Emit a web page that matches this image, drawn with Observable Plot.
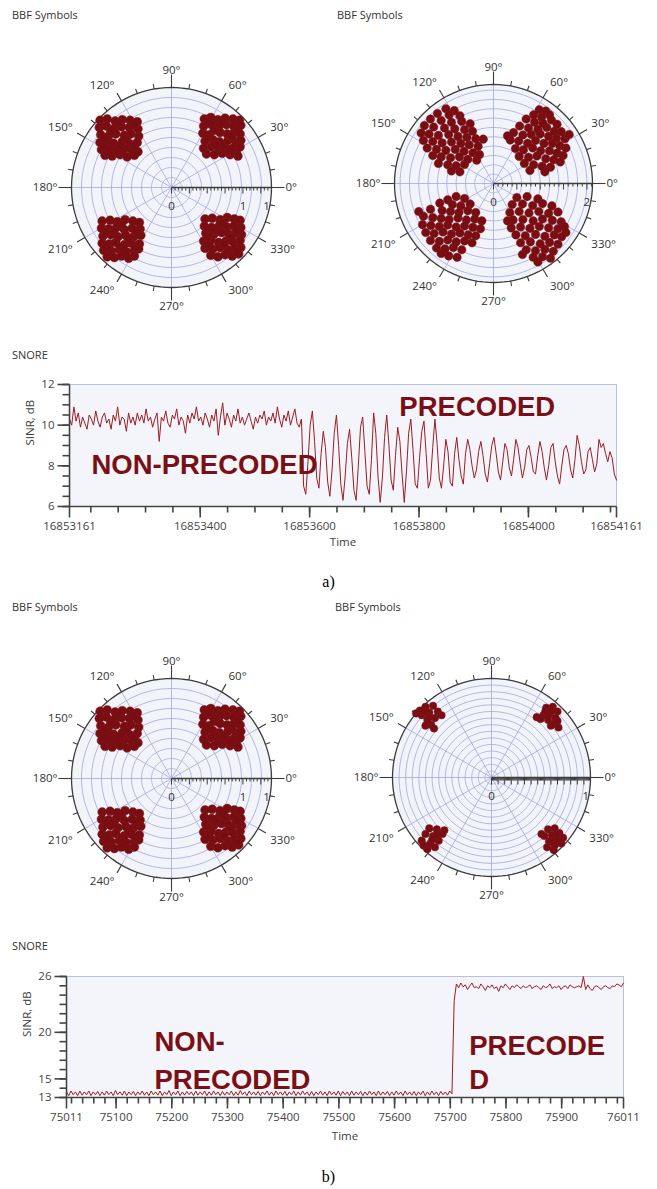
<!DOCTYPE html>
<html><head><meta charset="utf-8">
<script src="https://cdn.jsdelivr.net/npm/d3@7"></script>
<script src="https://cdn.jsdelivr.net/npm/@observablehq/plot@0.6"></script>
<style>
body{margin:0;background:#fff;}
#page{position:relative;width:657px;height:1189px;overflow:hidden;font-family:"Open Sans",sans-serif;}
.abs{position:absolute;}
.ttl{font-size:11px;color:#333;white-space:nowrap;}
.cap{font-family:"Liberation Serif",serif;font-size:16px;color:#000;width:657px;text-align:center;left:0;}
</style></head><body><div id="page"></div>
<script>
// ---------- constellation data (I/Q) ----------
const aLeftQ1 = [[0.46,0.96],[0.55,0.98],[0.65,0.95],[0.75,0.97],[0.86,0.96],[0.95,0.94],
 [0.45,0.86],[0.56,0.88],[0.66,0.85],[0.77,0.88],[0.87,0.86],[0.97,0.87],
 [0.44,0.76],[0.53,0.74],[0.68,0.77],[0.78,0.75],[0.88,0.77],[0.96,0.75],
 [0.47,0.65],[0.58,0.67],[0.67,0.64],[0.79,0.66],[0.90,0.64],[0.97,0.66],
 [0.45,0.55],[0.56,0.57],[0.66,0.54],[0.76,0.56],[0.86,0.55],[0.96,0.57],
 [0.49,0.47],[0.60,0.46],[0.71,0.48],[0.82,0.46],[0.91,0.49],
 [0.60,0.80],[0.84,0.70],[0.72,0.59],[0.93,0.44],[0.51,0.91],[0.71,0.91],[0.92,0.81],[0.62,0.60],[0.82,0.51],[0.50,0.70]];
const aLeftQ2 = [[-1.00,0.94],[-0.90,0.96],[-0.79,0.93],[-0.69,0.95],[-0.58,0.94],[-0.48,0.92],
 [-1.01,0.84],[-0.91,0.86],[-0.80,0.83],[-0.70,0.85],[-0.59,0.84],[-0.47,0.82],
 [-0.99,0.74],[-0.88,0.72],[-0.78,0.75],[-0.66,0.73],[-0.57,0.75],[-0.46,0.72],
 [-1.00,0.63],[-0.90,0.65],[-0.81,0.62],[-0.69,0.64],[-0.58,0.61],[-0.48,0.63],
 [-0.98,0.53],[-0.87,0.54],[-0.77,0.52],[-0.66,0.54],[-0.55,0.52],[-0.47,0.50],
 [-0.93,0.45],[-0.83,0.44],[-0.72,0.46],[-0.62,0.43],[-0.52,0.45],
 [-0.85,0.79],[-0.63,0.68],[-0.95,0.58],[-0.74,0.90],[-0.53,0.88],[-0.94,0.69],[-0.72,0.58],[-0.52,0.57]];
const aLeftQ3 = [[-0.97,-0.47],[-0.86,-0.46],[-0.76,-0.48],[-0.65,-0.45],[-0.54,-0.47],[-0.45,-0.49],
 [-0.98,-0.57],[-0.88,-0.58],[-0.77,-0.56],[-0.66,-0.59],[-0.55,-0.57],[-0.44,-0.58],
 [-0.96,-0.68],[-0.85,-0.66],[-0.75,-0.69],[-0.64,-0.67],[-0.53,-0.69],[-0.43,-0.67],
 [-0.97,-0.78],[-0.87,-0.79],[-0.78,-0.77],[-0.66,-0.80],[-0.56,-0.78],[-0.45,-0.79],
 [-0.95,-0.88],[-0.84,-0.89],[-0.73,-0.87],[-0.63,-0.90],[-0.52,-0.88],[-0.46,-0.86],
 [-0.90,-0.97],[-0.80,-0.98],[-0.70,-0.96],[-0.60,-0.99],[-0.52,-0.96],
 [-0.81,-0.62],[-0.60,-0.73],[-0.91,-0.83],[-0.70,-0.52],[-0.49,-0.62],[-0.70,-0.84],[-0.91,-0.62],[-0.50,-0.83]];
const aLeftQ4 = [[0.47,-0.44],[0.57,-0.43],[0.68,-0.45],[0.78,-0.42],[0.88,-0.44],[0.96,-0.46],
 [0.46,-0.54],[0.56,-0.56],[0.67,-0.53],[0.77,-0.55],[0.87,-0.54],[0.97,-0.56],
 [0.48,-0.64],[0.59,-0.66],[0.70,-0.63],[0.80,-0.65],[0.90,-0.64],[0.98,-0.66],
 [0.45,-0.75],[0.55,-0.74],[0.66,-0.77],[0.76,-0.75],[0.86,-0.76],[0.96,-0.74],
 [0.47,-0.85],[0.58,-0.86],[0.68,-0.84],[0.79,-0.87],[0.89,-0.85],[0.97,-0.84],
 [0.55,-0.95],[0.65,-0.97],[0.75,-0.94],[0.85,-0.96],[0.94,-0.93],
 [0.62,-0.60],[0.83,-0.70],[0.52,-0.80],[0.72,-0.50],[0.92,-0.60],[0.73,-0.80],[0.92,-0.90],[0.51,-0.69]];

const aRightQ1 = [[0.98,1.58],[1.12,1.55],[0.86,1.47],[1.03,1.42],[1.20,1.47],
 [0.70,1.38],[0.88,1.31],[1.06,1.29],[1.24,1.36],[1.36,1.27],
 [0.56,1.23],[0.75,1.19],[0.95,1.16],[1.14,1.20],[1.30,1.12],[1.45,1.11],
 [0.43,1.09],[0.63,1.04],[0.81,1.05],[1.00,1.06],[1.18,1.01],[1.35,0.97],[1.53,0.96],
 [0.36,0.93],[0.54,0.91],[0.73,0.86],[0.90,0.92],[1.08,0.86],[1.26,0.86],[1.42,0.81],[1.55,0.76],
 [0.47,0.75],[0.64,0.72],[0.84,0.76],[1.01,0.70],[1.20,0.70],[1.36,0.65],[1.49,0.60],
 [0.55,0.58],[0.75,0.56],[0.93,0.59],[1.12,0.53],[1.29,0.51],[1.43,0.46],
 [0.66,0.43],[0.86,0.40],[1.04,0.37],[1.22,0.35],[0.78,0.28],[1.10,0.25],[0.30,1.02],[1.62,1.05]];
const aRightQ2 = [[-1.02,1.60],[-0.84,1.56],[-1.20,1.50],[-0.95,1.47],[-0.72,1.45],
 [-1.35,1.38],[-1.12,1.35],[-0.90,1.31],[-0.68,1.33],[-0.50,1.28],
 [-1.48,1.24],[-1.28,1.21],[-1.05,1.19],[-0.83,1.17],[-0.62,1.15],[-0.45,1.12],
 [-1.55,1.08],[-1.38,1.06],[-1.18,1.03],[-0.96,1.05],[-0.76,1.01],[-0.57,0.99],[-0.38,0.96],
 [-1.50,0.92],[-1.30,0.90],[-1.10,0.87],[-0.90,0.89],[-0.70,0.86],[-0.52,0.83],[-0.33,0.80],
 [-1.42,0.76],[-1.22,0.73],[-1.02,0.71],[-0.82,0.73],[-0.63,0.69],[-0.44,0.66],
 [-1.30,0.60],[-1.12,0.57],[-0.92,0.55],[-0.73,0.57],[-0.55,0.52],[-0.36,0.50],
 [-1.18,0.43],[-0.98,0.40],[-0.80,0.38],[-0.62,0.41],[-0.30,0.62],[-0.90,0.27],[-0.72,0.25],[-0.22,0.95]];
const aRightQ3 = [[-0.80,-0.28],[-0.62,-0.32],[-0.98,-0.35],
 [-1.15,-0.42],[-0.88,-0.45],[-0.70,-0.48],[-0.50,-0.44],
 [-1.35,-0.55],[-1.10,-0.58],[-0.92,-0.60],[-0.74,-0.62],[-0.55,-0.58],[-0.38,-0.62],
 [-1.50,-0.70],[-1.30,-0.73],[-1.12,-0.75],[-0.95,-0.77],[-0.76,-0.74],[-0.58,-0.78],[-0.40,-0.76],[-0.25,-0.80],
 [-1.52,-0.88],[-1.34,-0.90],[-1.16,-0.92],[-0.98,-0.89],[-0.80,-0.93],[-0.62,-0.91],[-0.44,-0.94],[-0.28,-0.97],
 [-1.45,-1.05],[-1.27,-1.07],[-1.08,-1.04],[-0.90,-1.08],[-0.72,-1.06],[-0.54,-1.10],[-0.38,-1.12],
 [-1.35,-1.22],[-1.16,-1.24],[-0.98,-1.21],[-0.80,-1.25],[-0.62,-1.23],[-0.46,-1.27],
 [-1.22,-1.38],[-1.04,-1.40],[-0.86,-1.37],[-0.68,-1.42],
 [-0.96,-1.55],[-0.78,-1.58],[-1.12,-1.50],[-1.60,-0.60]];
const aRightQ4 = [[0.50,-0.30],[0.72,-0.28],[0.95,-0.33],
 [0.40,-0.45],[0.62,-0.44],[0.84,-0.47],[1.05,-0.43],[1.25,-0.48],
 [0.35,-0.62],[0.55,-0.60],[0.76,-0.63],[0.97,-0.60],[1.18,-0.64],[1.38,-0.61],
 [0.42,-0.78],[0.63,-0.77],[0.85,-0.80],[1.05,-0.76],[1.26,-0.79],[1.45,-0.82],
 [0.38,-0.95],[0.58,-0.93],[0.78,-0.96],[0.98,-0.92],[1.18,-0.95],[1.38,-0.97],[1.52,-0.92],
 [0.48,-1.10],[0.68,-1.12],[0.90,-1.09],[1.10,-1.13],[1.30,-1.10],[1.46,-1.14],
 [0.58,-1.27],[0.79,-1.25],[1.00,-1.29],[1.20,-1.26],[1.38,-1.30],
 [0.70,-1.42],[0.90,-1.44],[1.10,-1.41],[1.28,-1.45],
 [0.85,-1.58],[1.05,-1.57],[1.22,-1.60],[0.30,-0.80],[1.55,-1.05],[0.62,-1.52],[0.95,-1.68]];

const bRightQ1 = [[0.58,0.74],[0.65,0.75],[0.70,0.70],[0.62,0.68],[0.55,0.66],[0.68,0.63],[0.60,0.61],
 [0.52,0.62],[0.66,0.57],[0.71,0.53],[0.63,0.55],[0.70,0.60],[0.57,0.70],[0.48,0.64],[0.64,0.71],[0.60,0.65]];
const bRightQ2 = [[-0.70,0.75],[-0.62,0.76],[-0.57,0.70],[-0.66,0.69],[-0.74,0.66],[-0.60,0.63],[-0.68,0.61],
 [-0.76,0.71],[-0.53,0.66],[-0.64,0.56],[-0.70,0.55],[-0.80,0.68],[-0.61,0.52],[-0.66,0.64],[-0.70,0.70]];
const bRightQ3 = [[-0.66,-0.54],[-0.58,-0.55],[-0.52,-0.60],[-0.62,-0.62],[-0.70,-0.60],[-0.56,-0.67],
 [-0.65,-0.70],[-0.74,-0.67],[-0.60,-0.74],[-0.68,-0.76],[-0.50,-0.56],[-0.72,-0.72],[-0.63,-0.66],[-0.58,-0.61]];
const bRightQ4 = [[0.60,-0.55],[0.67,-0.54],[0.72,-0.59],[0.64,-0.61],[0.56,-0.62],[0.70,-0.66],
 [0.61,-0.68],[0.53,-0.60],[0.67,-0.72],[0.74,-0.70],[0.59,-0.74],[0.66,-0.77],[0.76,-0.64],[0.64,-0.66],[0.69,-0.60]];

// ---------- polar axis labels ----------
const angleLabels = [0,30,60,90,120,150,180,210,240,270,300,330];
const radialLabelsA = [{v:0,text:"0"},{v:1,text:"1"},{v:1.33,text:"1"}];
const radialLabelsB = [{v:0,text:"0"},{v:2,text:"2"}];
const radialLabelsC = [{v:0,text:"0"},{v:1,text:"1"}];

// ---------- SNR time series ----------
const snrA = [
 10.3,10.0,10.9,10.2,10.6,9.9,10.4,10.1,9.8,10.5,
 10.3,10.0,10.7,10.2,9.9,10.4,10.6,10.1,10.3,9.8,
 10.5,10.2,10.9,10.0,10.4,10.3,9.7,10.6,10.1,10.4,
 10.0,10.6,10.2,10.5,10.1,10.8,10.2,10.4,9.9,10.3,
 10.6,9.2,10.4,10.2,10.7,10.1,9.9,10.5,10.3,10.8,
 10.0,10.4,10.2,9.6,10.5,10.1,10.6,10.3,10.9,10.2,
 10.4,10.0,10.6,10.3,9.9,10.5,10.2,10.8,9.5,10.4,
 11.1,10.0,10.6,10.3,9.9,10.5,10.2,10.8,10.1,10.4,
 10.0,10.3,10.6,10.2,9.8,10.4,10.1,10.5,10.3,10.7,
 10.0,10.4,10.2,10.6,10.1,10.9,10.3,9.9,10.5,10.2,
 10.7,10.0,10.4,10.8,10.1,9.9,10.3,
 7.0,6.6,8.2,10.0,10.7,9.2,7.4,6.9,8.6,9.7,
 8.9,7.2,6.5,7.8,9.6,10.5,9.0,7.1,6.3,7.5,
 9.1,9.8,8.4,6.8,6.3,8.0,9.9,10.4,8.7,7.0,
 6.6,8.3,10.6,9.6,7.5,6.2,7.4,9.4,10.5,9.0,
 7.3,6.8,8.5,9.9,9.2,7.6,6.2,7.7,9.6,10.3,
 8.8,7.1,6.9,8.4,9.7,10.2,8.6,6.9,7.3,8.9,
 10.3,9.1,7.4,6.9,8.0,9.3,8.7,7.2,7.0,8.6,
 9.4,8.3,7.5,7.1,
 8.6,9.3,8.8,8.0,7.4,7.8,8.7,9.2,8.5,7.6,
 7.2,8.1,9.0,9.4,8.6,7.7,7.3,8.2,9.1,8.8,
 7.9,7.5,8.3,9.3,8.9,8.1,7.4,7.9,8.8,9.0,
 8.4,7.7,7.6,8.5,9.2,8.7,7.9,7.3,8.0,8.9,
 9.1,8.2,7.5,7.1,8.0,8.8,9.0,8.6,7.8,7.4,
 8.3,9.5,9.0,8.2,7.6,7.8,8.7,8.9,8.3,7.7,
 8.1,9.3,8.9,9.1,8.6,8.2,8.7,8.4,7.6,7.3];
const snrB = [
 13.6,13.2,13.7,13.3,13.6,13.2,13.7,13.25,13.6,13.3,
 13.7,13.2,13.6,13.3,13.65,13.2,13.6,13.25,13.7,13.3,
 13.6,13.2,13.75,13.3,13.6,13.25,13.7,13.2,13.6,13.3,
 13.65,13.2,13.6,13.3,13.7,13.25,13.6,13.2,13.7,13.3,
 13.6,13.25,13.7,13.2,13.6,13.3,13.75,13.2,13.6,13.3,
 13.7,13.2,13.6,13.25,13.65,13.3,13.6,13.2,13.7,13.25,
 13.6,13.3,13.7,13.2,13.6,13.25,13.7,13.3,13.6,13.2,
 13.65,13.25,13.6,13.3,13.7,13.2,13.6,13.25,13.75,13.3,
 13.6,13.2,13.7,13.3,13.6,13.25,13.65,13.2,13.6,13.3,
 13.7,13.25,13.6,13.2,13.7,13.3,13.6,13.25,13.65,13.2,
 13.6,13.3,13.7,13.2,13.6,13.25,13.7,13.3,13.6,13.2,
 13.65,13.2,13.6,13.3,13.7,13.25,13.6,13.2,13.7,13.3,
 13.6,13.25,13.7,13.2,13.65,13.3,13.6,13.2,13.7,13.25,
 13.6,13.3,13.65,13.2,13.6,13.25,13.7,13.3,13.6,13.2,
 13.7,13.25,13.6,13.3,13.65,13.2,13.6,13.25,13.7,13.3,
 13.6,13.2,13.7,13.3,13.6,13.25,13.65,13.2,13.6,13.3,
 13.7,13.2,13.6,13.25,13.7,13.3,13.6,13.2,13.65,13.3,
 13.6,13.25,13.7,13.4,
 23.4,
 25.2,24.8,25.3,24.9,25.1,24.6,25.0,25.3,24.8,24.9,
 24.7,25.2,24.9,24.5,25.0,24.8,25.1,24.7,24.9,24.4,
 25.0,24.8,25.2,24.9,24.6,25.0,24.8,25.1,24.9,24.7,
 25.0,24.8,24.9,25.1,24.7,24.9,25.0,24.8,24.6,25.0,
 24.8,24.9,25.2,24.7,24.9,24.8,25.0,24.6,24.9,25.0,
 24.7,25.1,24.9,24.8,24.9,25.0,24.8,26.0,24.6,25.1,
 24.7,24.5,24.9,25.0,24.8,24.6,24.9,25.0,24.8,24.7,25.0,24.9,25.2,25.1,24.9,25.3];

const timeA = [16853161, 16854161];
const timeB = [75011, 76011];
const xTicksA = [16853161, 16853400, 16853600, 16853800, 16854000, 16854161];
const xTicksB = [75011, 75100, 75200, 75300, 75400, 75500, 75600, 75700, 75800, 75900, 76011];
const yTicksA = [6, 8, 10, 12];
const yTicksB = [13, 15, 20, 26];
const notesA = [{text:"NON-PRECODED", t:16853201, v:8.75}, {text:"PRECODED", t:16853764, v:11.62}];
const notesB = [{text:"NON-\nPRECODED", t:75169, v:20.85, lh:1.38}, {text:"PRECODE\nD", t:75734, v:20.1, lh:1.23}];

// ---------- builders ----------
const page = document.getElementById("page");
function place(node, left, top) {
  const d = document.createElement("div");
  d.className = "abs"; d.style.left = left + "px"; d.style.top = top + "px";
  d.appendChild(node); page.appendChild(d); return d;
}
function label(text, left, top, cls) {
  const d = document.createElement("div");
  d.className = "abs " + cls; d.style.top = top + "px";
  if (left !== null) d.style.left = left + "px";
  d.textContent = text; page.appendChild(d);
}

const DOT = "#780d12";
const INK = "#444";
function polarChart(cfg) {
  const S = 150, u = cfg.max / cfg.R, L = S * u, rad = Math.PI / 180;
  const circ = (r, key) => d3.range(0, 361, 3).map(a => ({key, x: r * Math.cos(a * rad), y: r * Math.sin(a * rad)}));
  const ringPts = cfg.rings.flatMap((r, k) => circ(r, k));
  const rimPts = circ(cfg.max, "rim");
  const spokes = angleLabels.map(a => ({x2: cfg.max * Math.cos(a * rad), y2: cfg.max * Math.sin(a * rad)}));
  const tickLen = a => a % 90 === 0 ? 13 : a % 30 === 0 ? 9 : 5;
  const outer = d3.range(0, 360, 10).map(a => {
    const c = Math.cos(a * rad), s = Math.sin(a * rad), r2 = cfg.max + tickLen(a) * u;
    return {x1: cfg.max * c, y1: cfg.max * s, x2: r2 * c, y2: r2 * s};
  });
  const aLab = angleLabels.map(a => {
    const r = cfg.max + 14 * u, c = Math.cos(a * rad), s = Math.sin(a * rad);
    return {text: a + "°", x: r * c, y: r * s,
      ta: Math.abs(c) < 0.2 ? "middle" : c > 0 ? "start" : "end",
      la: Math.abs(s) < 0.2 ? "middle" : s > 0 ? "bottom" : "top"};
  });
  const rTicks = d3.range(0, cfg.max + 1e-9, cfg.minor).map(v => {
    const q = v / cfg.major, major = Math.abs(q - Math.round(q)) < 1e-6;
    return {v, len: (major ? cfg.majorLen : cfg.minorLen) * u};
  });
  const dots = cfg.clusters.flat();
  const labelMarks = ["start", "middle", "end"].flatMap(ta => ["top", "middle", "bottom"].map(la =>
    Plot.text(aLab.filter(d => d.ta === ta && d.la === la), {x: "x", y: "y", text: "text", textAnchor: ta, lineAnchor: la, fill: "#333"})));
  return Plot.plot({
    width: 2 * S, height: 2 * S, margin: 0,
    x: {domain: [-L, L], axis: null}, y: {domain: [-L, L], axis: null},
    style: {fontFamily: '"Open Sans", sans-serif', fontSize: "11.5px", color: "#333", background: "transparent", overflow: "visible"},
    marks: [
      Plot.line(rimPts, {x: "x", y: "y", fill: "#f3f4fa", stroke: "none"}),
      Plot.line(ringPts, {x: "x", y: "y", z: "key", stroke: "#a3ace3", strokeWidth: 0.85}),
      Plot.link(spokes, {x1: 0, y1: 0, x2: "x2", y2: "y2", stroke: "#a3ace3", strokeWidth: 0.85}),
      Plot.line(rimPts, {x: "x", y: "y", stroke: "#3c3c3c", strokeWidth: 1.3}),
      Plot.link(outer, {x1: "x1", y1: "y1", x2: "x2", y2: "y2", stroke: "#3c3c3c", strokeWidth: 1.1}),
      ...labelMarks,
      Plot.link([{x2: cfg.max}], {x1: 0, y1: 0, x2: "x2", y2: 0, stroke: "#3c3c3c", strokeWidth: 1.3}),
      Plot.link(rTicks, {x1: "v", y1: 0, x2: "v", y2: d => -d.len, stroke: "#3c3c3c", strokeWidth: 1}),
      Plot.text(cfg.rLabels, {x: "v", y: -19 * u, text: "text", fill: "#333"}),
      Plot.dot(dots, {x: d => d[0], y: d => d[1], r: cfg.dotR, fill: DOT, stroke: "#8a1a1f", strokeWidth: 0.4})
    ]
  });
}

function snrChart(c) {
  const n = c.values.length, dt = (c.time[1] - c.time[0]) / (n - 1);
  const data = c.values.map((v, i) => ({t: c.time[0] + i * dt, v}));
  const ux = (c.time[1] - c.time[0]) / (657 - c.ml - c.mr);
  const uy = (c.yDomain[1] - c.yDomain[0]) / (c.height - c.mt - c.mb);
  const t0 = c.time[0], y0 = c.yDomain[0];
  const noteMarks = c.notes.map(nt => Plot.text([nt], {
    x: "t", y: "v", text: "text", textAnchor: "start", lineAnchor: "top", lineHeight: nt.lh || 1.2,
    fontSize: 27.5, fontWeight: "bold", fontFamily: '"Liberation Sans", Arial, sans-serif', fill: "#7a1016"
  }));
  const fmt = d => String(d);
  const yt = (arr, len) => arr.map(v => ({xa: t0, xb: t0 - len * ux, y: v}));
  const xt = (arr, len) => arr.map(v => ({x: v, ya: y0, yb: y0 - len * uy}));
  return Plot.plot({
    width: 657, height: c.height, marginTop: c.mt, marginBottom: c.mb, marginLeft: c.ml, marginRight: c.mr,
    style: {fontFamily: '"Open Sans", sans-serif', fontSize: "11.5px", color: "#444", background: "transparent", overflow: "visible"},
    x: {domain: c.time}, y: {domain: c.yDomain},
    marks: [
      Plot.frame({fill: "#f3f5fa", stroke: "#b7c4d8"}),
      Plot.line(data, {x: "t", y: "v", stroke: "#9d1c23", strokeWidth: 1}),
      Plot.link([{a: 0}], {x1: t0, y1: y0, x2: t0, y2: c.yDomain[1], stroke: INK, strokeWidth: 1.6}),
      Plot.link([{a: 0}], {x1: t0, y1: y0, x2: c.time[1], y2: y0, stroke: INK, strokeWidth: 1.6}),
      Plot.link(yt(c.yMinor, 7), {x1: "xa", y1: "y", x2: "xb", y2: "y", stroke: INK, strokeWidth: 1.6}),
      Plot.link(yt(c.yTicks, 12), {x1: "xa", y1: "y", x2: "xb", y2: "y", stroke: INK, strokeWidth: 1.6}),
      Plot.link(xt(c.xMinor, 6), {x1: "x", y1: "ya", x2: "x", y2: "yb", stroke: INK, strokeWidth: 1.6}),
      Plot.link(xt(c.xTicks, 11), {x1: "x", y1: "ya", x2: "x", y2: "yb", stroke: INK, strokeWidth: 1.6}),
      Plot.axisY({ticks: c.yTicks, tickSize: 0, tickPadding: 15, tickFormat: fmt, label: null}),
      Plot.axisX({ticks: c.xTicks, tickSize: 0, tickPadding: 15, tickFormat: fmt, label: null}),
      ...noteMarks,
      Plot.text(["Time"], {frameAnchor: "bottom", dy: c.timeDy, fill: "#404040", fontSize: 11.5}),
      Plot.text(["SINR, dB"], {frameAnchor: "left", dx: -39, rotate: -90, fill: "#404040", fontSize: 11.5})
    ]
  });
}

// ---------- panel a ----------
label("BBF Symbols", 12, 7, "ttl");
label("BBF Symbols", 337, 7, "ttl");
const cfgA = {max: 1.4, R: 100, rings: [0.14,0.28,0.42,0.56,0.70,0.84,0.98,1.12,1.26], minor: 0.05, major: 0.25,
  minorLen: 3, majorLen: 6, rLabels: radialLabelsA, clusters: [aLeftQ1, aLeftQ2, aLeftQ3, aLeftQ4], dotR: 4.5};
place(polarChart(cfgA), 21, 37);
place(polarChart({max: 2.12, R: 99, rings: [0.2,0.4,0.6,0.8,1.0,1.2,1.4,1.6,1.8,2.0], minor: 0.1, major: 0.5,
  minorLen: 3, majorLen: 6, rLabels: radialLabelsB, clusters: [aRightQ1, aRightQ2, aRightQ3, aRightQ4], dotR: 4.3}), 343, 33);
label("SNORE", 12, 347, "ttl");
place(snrChart({values: snrA, time: timeA, yDomain: [6, 12], yTicks: yTicksA, yMinor: d3.range(6, 12.01, 0.5),
  xTicks: xTicksA, xMinor: d3.range(16853200, 16854161, 50), notes: notesA,
  height: 200, mt: 24, mb: 54, ml: 69, mr: 41, timeDy: 39}), 0, 360);
label("a)", null, 573, "cap");

// ---------- panel b ----------
label("BBF Symbols", 12, 599, "ttl");
label("BBF Symbols", 335, 599, "ttl");
place(polarChart(cfgA), 21, 628);
place(polarChart({max: 1.05, R: 99, rings: [0.07,0.14,0.21,0.28,0.35,0.42,0.49,0.56,0.63,0.70,0.77,0.84,0.91,0.98],
  minor: 0.01, major: 0.07, minorLen: 3, majorLen: 7, rLabels: radialLabelsC,
  clusters: [bRightQ1, bRightQ2, bRightQ3, bRightQ4], dotR: 3.8}), 341, 627);
label("SNORE", 12, 938, "ttl");
place(snrChart({values: snrB, time: timeB, yDomain: [13, 26], yTicks: yTicksB, yMinor: d3.range(13, 26.01, 1),
  xTicks: xTicksB, xMinor: d3.range(75020, 76011, 20), notes: notesB,
  height: 200, mt: 26, mb: 53, ml: 66, mr: 34, timeDy: 42}), 0, 950);
label("b)", null, 1168, "cap");
</script></body></html>
